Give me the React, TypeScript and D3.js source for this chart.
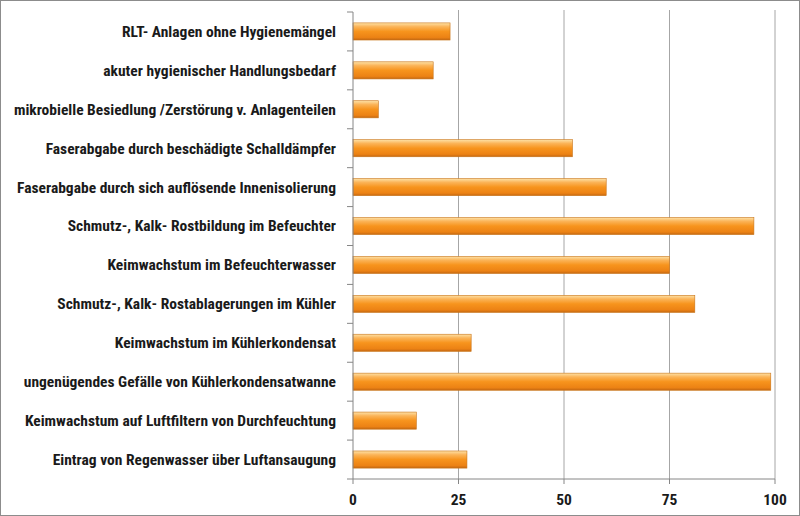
import React from "react";
import * as d3 from "d3";

const categories = [
  "RLT- Anlagen ohne Hygienemängel",
  "akuter hygienischer Handlungsbedarf",
  "mikrobielle Besiedlung /Zerstörung v. Anlagenteilen",
  "Faserabgabe durch beschädigte Schalldämpfer",
  "Faserabgabe durch sich auflösende Innenisolierung",
  "Schmutz-, Kalk- Rostbildung im Befeuchter",
  "Keimwachstum im Befeuchterwasser",
  "Schmutz-, Kalk- Rostablagerungen im Kühler",
  "Keimwachstum im Kühlerkondensat",
  "ungenügendes Gefälle von Kühlerkondensatwanne",
  "Keimwachstum auf Luftfiltern von Durchfeuchtung",
  "Eintrag von Regenwasser über Luftansaugung",
];
const values = [23, 19, 6, 52, 60, 95, 75, 81, 28, 99, 15, 27];
const xTicks = [0, 25, 50, 75, 100];

const W = 800;
const H = 516;
const left = 353;
const right = 775;
const top = 12;
const bottom = 479;

export default function App() {
  const x = d3.scaleLinear().domain([0, 100]).range([left, right]);
  const y = d3
    .scaleBand<string>()
    .domain(categories)
    .range([top, bottom])
    .paddingInner(0.56)
    .paddingOuter(0.28);
  const step = y.step();
  const bandEdges = d3.range(categories.length + 1).map((i) => top + i * step);
  const font = "'Liberation Sans Narrow', 'Roboto Condensed', Lato, 'Noto Sans', sans-serif";

  return (
    <div style={{ position: "fixed", left: 0, top: 0, width: W, height: H }}>
      <svg width={W} height={H} style={{ display: "block" }}>
        <defs>
          <linearGradient id="barFill" x1="0" y1="0" x2="0" y2="1">
            <stop offset="0" stopColor="#fde2a8" />
            <stop offset="0.22" stopColor="#fbb458" />
            <stop offset="0.5" stopColor="#f7941d" />
            <stop offset="0.85" stopColor="#ec8214" />
            <stop offset="1" stopColor="#c46812" />
          </linearGradient>
        </defs>
        <rect x={0.5} y={0.5} width={W - 1} height={H - 1} fill="#fff" stroke="#8c8c8c" />
        {/* vertical gridlines */}
        {xTicks.slice(1).map((t) => (
          <line key={t} x1={x(t)} x2={x(t)} y1={top - 2} y2={bottom} stroke="#a6a6a6" strokeWidth={1} />
        ))}
        {/* bars */}
        {categories.map((c, i) => (
          <rect
            key={c}
            x={x(0)}
            y={y(c)!}
            width={x(values[i]) - x(0)}
            height={y.bandwidth()}
            fill="url(#barFill)"
            stroke="#c97418"
            strokeWidth={0.6}
          />
        ))}
        {/* category axis */}
        <line x1={left} x2={left} y1={top} y2={bottom} stroke="#868686" />
        {bandEdges.map((e, i) => (
          <line key={i} x1={left - 6} x2={left} y1={e} y2={e} stroke="#868686" />
        ))}
        {categories.map((c) => (
          <text
            key={c}
            x={left - 17}
            y={y(c)! + y.bandwidth() / 2}
            dy="0.35em"
            textAnchor="end"
            fontFamily={font}
            fontWeight="bold"
            fontSize={15.5}
            fill="#1a1a1a"
          >
            {c}
          </text>
        ))}
        {/* value axis */}
        <line x1={left} x2={right} y1={bottom} y2={bottom} stroke="#868686" />
        {xTicks.map((t) => (
          <g key={t}>
            <line x1={x(t)} x2={x(t)} y1={bottom} y2={bottom + 5} stroke="#868686" />
            <text
              x={x(t)}
              y={500}
              dy="0.35em"
              textAnchor="middle"
              fontFamily={font}
              fontWeight="bold"
              fontSize={15.5}
              fill="#1a1a1a"
            >
              {t}
            </text>
          </g>
        ))}
      </svg>
    </div>
  );
}
